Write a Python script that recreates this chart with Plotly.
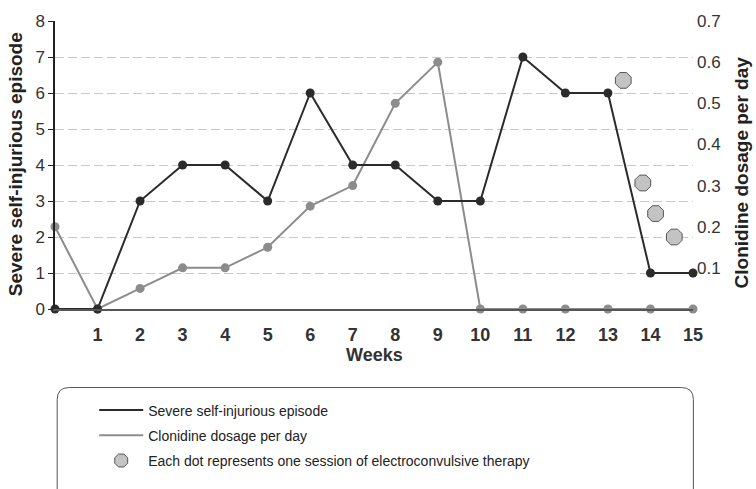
import plotly.graph_objects as go

weeks = list(range(0, 16))
episodes = [0, 0, 3, 4, 4, 3, 6, 4, 4, 3, 3, 7, 6, 6, 1, 1]
clonidine = [0.2, 0, 0.05, 0.1, 0.1, 0.15, 0.25, 0.3, 0.5, 0.6, 0, 0, 0, 0, 0, 0]
ect_x = [13.36, 13.82, 14.12, 14.56]
ect_y = [6.35, 3.5, 2.65, 2.0]
x_ticks = list(range(1, 16))
y_ticks = list(range(0, 9))
y2_ticks = [0.1, 0.2, 0.3, 0.4, 0.5, 0.6, 0.7]

name_ep = "Severe self-injurious episode"
name_cl = "Clonidine dosage per day"
name_ect = "Each dot represents one session of electroconvulsive therapy"

BLACK = "#2b2b2b"
GREY = "#8c8c8c"
FONT = "Liberation Sans, Arial, sans-serif"

fig = go.Figure()
# clonidine on the base (right-hand) axis, episodes on the overlaying (left-hand) axis
fig.add_trace(go.Scatter(x=weeks, y=clonidine, yaxis="y", mode="lines+markers",
                         line=dict(color=GREY, width=2), marker=dict(color=GREY, size=9),
                         showlegend=False, cliponaxis=False))
fig.add_trace(go.Scatter(x=weeks, y=episodes, yaxis="y2", mode="lines+markers",
                         line=dict(color=BLACK, width=2), marker=dict(color=BLACK, size=9),
                         showlegend=False, cliponaxis=False))
fig.add_trace(go.Scatter(x=ect_x, y=ect_y, yaxis="y2", mode="markers",
                         marker=dict(symbol="octagon", size=17, color="#c3c3c3",
                                     line=dict(color="#555555", width=1)),
                         name=name_ect, showlegend=False, cliponaxis=False))
# legend-only entries
fig.add_trace(go.Scatter(x=[None], y=[None], mode="lines", name=name_ep,
                         line=dict(color=BLACK, width=2), legendgroup="a"))
fig.add_trace(go.Scatter(x=[None], y=[None], mode="lines", name=name_cl,
                         line=dict(color=GREY, width=2), legendgroup="b"))
fig.add_trace(go.Scatter(x=[None], y=[None], mode="markers", name=name_ect,
                         marker=dict(symbol="octagon", size=14, color="#c3c3c3",
                                     line=dict(color="#555555", width=1)), legendgroup="c"))

# rounded legend box (paper coords)
L, T, B = 54.8, 20.7, 309.3
W, H = 637.8, B - T
def px(x):
    return (x - L) / W
def py(y):
    return (B - y) / H
x0, x1, y0, y1 = px(57), px(693), py(388), py(520)
rx, ry = 12 / W, 12 / H
path = (f"M {x0+rx},{y0} L {x1-rx},{y0} Q {x1},{y0} {x1},{y0-ry} "
        f"L {x1},{y1+ry} Q {x1},{y1} {x1-rx},{y1} L {x0+rx},{y1} Q {x0},{y1} {x0},{y1+ry} "
        f"L {x0},{y0-ry} Q {x0},{y0} {x0+rx},{y0} Z")
fig.add_shape(type="path", path=path, xref="paper", yref="paper",
              line=dict(color="#555555", width=1), fillcolor="rgba(0,0,0,0)")

title_font = dict(family=FONT, size=19, color="#222", weight="bold")
fig.add_annotation(text="Clonidine dosage per day", xref="paper", yref="paper",
                   x=px(742), y=py(172), textangle=-90, showarrow=False, font=title_font,
                   xanchor="center", yanchor="middle")
fig.add_annotation(text="Severe self-injurious episode", xref="paper", yref="paper",
                   x=px(15), y=py(164), textangle=-90, showarrow=False, font=title_font,
                   xanchor="center", yanchor="middle")
fig.add_annotation(text="Weeks", xref="paper", yref="paper",
                   x=px(374), y=py(355), showarrow=False, xanchor="center", yanchor="middle",
                   font=dict(family=FONT, size=18, color="#333", weight="bold"))

fig.update_layout(
    width=756, height=489,
    margin=dict(l=55, r=63, t=21, b=180),
    paper_bgcolor="white", plot_bgcolor="white",
    font=dict(family=FONT, color="#333"),
    xaxis=dict(range=[0, 15], tickvals=x_ticks, ticks="", showgrid=False, zeroline=False,
               showline=True, linecolor="#555555", linewidth=2, automargin=False,
               ticklabelstandoff=8,
               tickfont=dict(family=FONT, size=18, color="#333", weight="bold")),
    yaxis2=dict(range=[0, 8], tickvals=y_ticks, ticks="outside", ticklen=5, tickcolor="#222",
                overlaying="y", side="left",
                showline=True, linecolor="#222", linewidth=1.5, zeroline=False,
                showgrid=True, gridcolor="#c8c8c8", gridwidth=1.3, griddash="9px,4px",
                automargin=False,
                tickfont=dict(family=FONT, size=17, color="#333")),
    yaxis=dict(range=[0, 0.7], tickvals=y2_ticks, side="right",
               showgrid=False, zeroline=False, showline=False, ticks="", automargin=False,
               ticklabelstandoff=3,
               tickfont=dict(family=FONT, size=17, color="#333")),
    legend=dict(x=px(94), y=py(395), xanchor="left", yanchor="top",
                bgcolor="rgba(0,0,0,0)", borderwidth=0, tracegroupgap=4, itemwidth=44,
                font=dict(family=FONT, size=14, color="#222")),
)

fig.write_html("out.html", config={"displayModeBar": False},
               post_script="document.body.style.margin='0';")
